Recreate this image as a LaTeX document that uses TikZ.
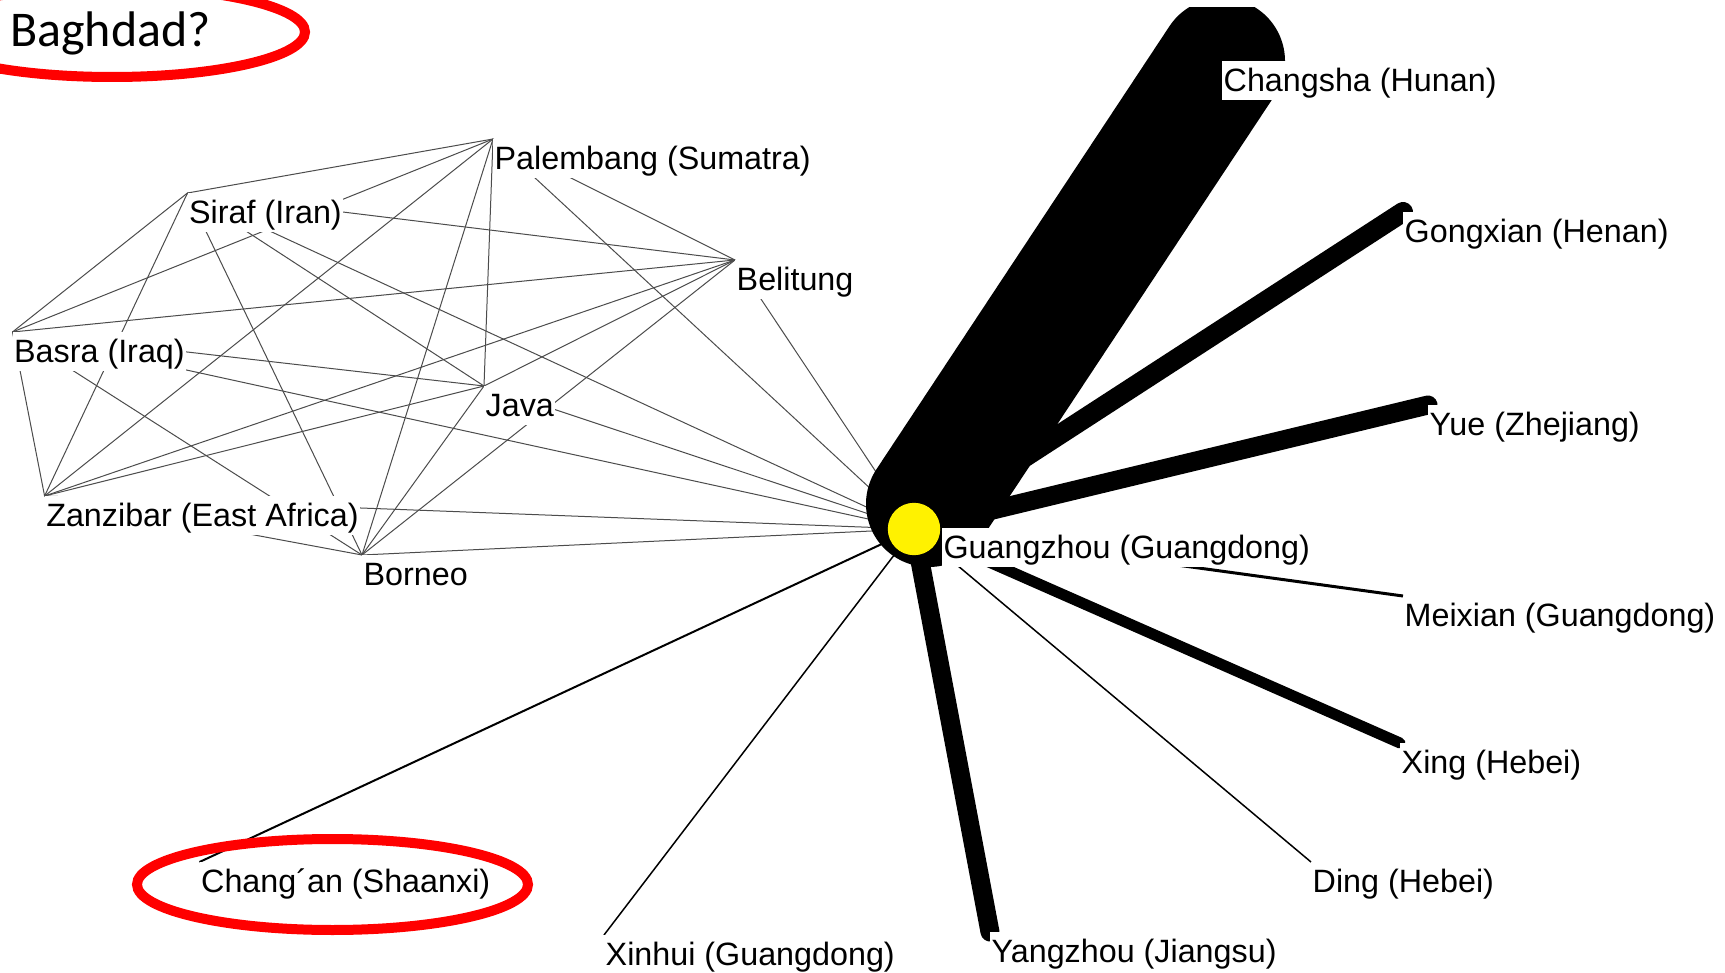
\documentclass[tikz,border=0pt]{standalone}
\usepackage{fontspec}
\setmainfont{Liberation Sans}
\newfontfamily\calfont{Carlito}
\usetikzlibrary{calc}
\begin{document}
\begin{tikzpicture}[x=1pt,y=-1pt,
  netline/.style={draw=black!70, line width=1pt},
  thinedge/.style={draw=black, line width=#1},
  band/.style={draw=black, line width=#1, line cap=round},
  lbl/.style={anchor=north west, fill=white, inner xsep=1.5pt, inner ysep=2pt,
    text height=28pt, text depth=7pt, font=\fontsize{32.3}{38}\selectfont},
  hub/.style={circle, fill=yellow, minimum size=52.4pt, inner sep=0pt},
  redring/.style={draw=red, line width=10pt}]
\useasboundingbox (0,0) rectangle (1725,973);
\clip (0,0) rectangle (1725,973);
\fill[white] (0,0) rectangle (1725,973);
% vertices
\coordinate (Pa) at (493,139);
\coordinate (Si) at (187.5,193);
\coordinate (Be) at (735,260);
\coordinate (Ba) at (12.5,332);
\coordinate (Ja) at (484,386);
\coordinate (Za) at (44.6,496);
\coordinate (Bo) at (362,555);
\coordinate (gz) at (914,529);
\coordinate (gzc) at (929,504);
\coordinate (ch) at (1222,61);
\coordinate (go) at (1403,212);
\coordinate (yu) at (1428,405);
\coordinate (me) at (1403,596);
\coordinate (xi) at (1400,743);
\coordinate (di) at (1311,862);
\coordinate (ya) at (990,932);
\coordinate (xh) at (604,935);
\coordinate (ca) at (199.5,862);
% maritime network
\foreach \a/\b in {Pa/Si,Pa/Be,Pa/Ba,Pa/Ja,Pa/Za,Pa/Bo,Pa/gz,
  Si/Be,Si/Ba,Si/Ja,Si/Za,Si/Bo,Si/gz,
  Be/Ba,Be/Ja,Be/Za,Be/Bo,Be/gz,
  Ba/Ja,Ba/Za,Ba/Bo,Ba/gz,
  Ja/Za,Ja/Bo,Ja/gz,
  Za/Bo,Za/gz,
  Bo/gz}
  \draw[netline] (\a) -- (\b);
% Chinese connections
\draw[thinedge=2pt] (gz) -- (ca);
\draw[thinedge=1.5pt] (gz) -- (xh);
\draw[thinedge=1.5pt] (gz) -- (di);
\draw[thinedge=3pt] (gz) -- (me);
\draw[band=11pt] (gz) -- (xi);
\draw[band=19pt] (gz) -- (ya);
\draw[band=19pt] (gz) -- (yu);
\draw[band=20pt] (gz) -- (go);
\begin{scope}
  \clip (0,7.5) rectangle (1725,973);
  \draw[band=126pt] (gzc) -- (ch);
\end{scope}
\node[hub] (gzn) at (gz) {};
% labels
\node[lbl] (lPa) at (Pa) {Palembang (Sumatra)};
\node[lbl] (lSi) at (Si) {Siraf (Iran)};
\node[lbl] (lBe) at (Be) {Belitung};
\node[lbl] (lBa) at (Ba) {Basra (Iraq)};
\node[lbl] (lJa) at (Ja) {Java};
\node[lbl] (lZa) at (Za) {Zanzibar (East Africa)};
\node[lbl] (lBo) at (Bo) {Borneo};
\node[lbl] (lgz) at ($(gzn.east)+(1.5,-1)$) {Guangzhou (Guangdong)};
\node[lbl] (lch) at (ch) {Changsha (Hunan)};
\node[lbl] (lgo) at (go) {Gongxian (Henan)};
\node[lbl] (lyu) at (yu) {Yue (Zhejiang)};
\node[lbl] (lme) at (me) {Meixian (Guangdong)};
\node[lbl] (lxi) at (xi) {Xing (Hebei)};
\node[lbl] (ldi) at (di) {Ding (Hebei)};
\node[lbl] (lya) at (ya) {Yangzhou (Jiangsu)};
\node[lbl] (lxh) at (xh) {Xinhui (Guangdong)};
\node[lbl] (lca) at (ca) {Chang´an (Shaanxi)};
% annotations
\node[anchor=base west, inner sep=0pt, font=\calfont\fontsize{50}{60}\selectfont] (bag) at (10,47) {Baghdad?};
\draw[redring] (112,32) ellipse [x radius=193pt, y radius=45pt];
\draw[redring] (332.5,884.5) ellipse [x radius=195.5pt, y radius=45.5pt];
\end{tikzpicture}
\end{document}
